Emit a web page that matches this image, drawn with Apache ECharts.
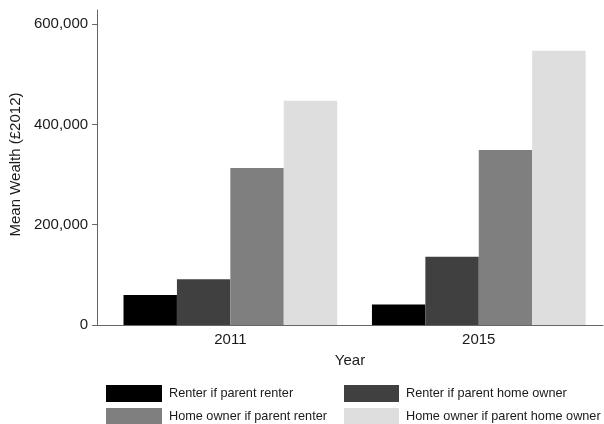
<!DOCTYPE html>
<html>
<head>
<meta charset="utf-8">
<script src="https://cdn.jsdelivr.net/npm/echarts@6/dist/echarts.min.js"></script>
<style>
html,body{margin:0;padding:0;background:#fff;}
#c{width:604px;height:424px;}
</style>
</head>
<body>
<div id="c"></div>
<script>
var years = ['2011', '2015'];
var seriesNames = ['Renter if parent renter', 'Renter if parent home owner', 'Home owner if parent renter', 'Home owner if parent home owner'];
var renterParentRenter = [60000, 41000];
var renterParentOwner = [91000, 136000];
var ownerParentRenter = [313000, 349000];
var ownerParentOwner = [447000, 547000];
var yTicks = [0, 200000, 400000, 600000];
var colors = ['#000000', '#404040', '#7f7f7f', '#dedede'];

var values = [renterParentRenter, renterParentOwner, ownerParentRenter, ownerParentOwner];
var font = 'Liberation Sans, Arial, sans-serif';
var textColor = '#1a1a1a';
var axisColor = '#666666';

var chart = echarts.init(document.getElementById('c'), null, {renderer: 'canvas'});
var series = seriesNames.map(function (n, i) {
  return {
    name: n, type: 'bar', data: values[i],
    xAxisIndex: 0, yAxisIndex: 0,
    barGap: '0%', barCategoryGap: '14%',
    itemStyle: {color: colors[i]},
    emphasis: {disabled: true}
  };
});
chart.setOption({
  animation: false,
  backgroundColor: '#ffffff',
  textStyle: {fontFamily: font},
  grid: [
    {left: 106, right: 1, top: 10, bottom: 99},
    {left: 97, right: 1, top: 10, bottom: 99}
  ],
  legend: [
    {
      data: [seriesNames[0], seriesNames[2]],
      orient: 'vertical', left: 106, top: 385, height: 60,
      itemWidth: 56, itemHeight: 17, itemGap: 6,
      icon: 'rect', padding: 0,
      textStyle: {fontSize: 12.7, color: textColor, fontFamily: font, padding: [0, 0, 0, 2]},
      selectedMode: false
    },
    {
      data: [seriesNames[1], seriesNames[3]],
      orient: 'vertical', left: 344, top: 385, height: 60,
      itemWidth: 55, itemHeight: 17, itemGap: 6,
      icon: 'rect', padding: 0,
      textStyle: {fontSize: 12.7, color: textColor, fontFamily: font, padding: [0, 0, 0, 2]},
      selectedMode: false
    }
  ],
  xAxis: [
    {
      type: 'category', data: years, gridIndex: 0,
      axisLine: {show: false}, axisTick: {show: false},
      axisLabel: {fontSize: 15, color: textColor, margin: 7, fontFamily: font}
    },
    {
      type: 'category', data: years, gridIndex: 1,
      name: 'Year', nameLocation: 'middle', nameGap: 28,
      nameTextStyle: {fontSize: 15, color: textColor, fontFamily: font},
      axisLine: {show: true, lineStyle: {color: axisColor, width: 1}},
      axisTick: {show: false}, axisLabel: {show: false}
    }
  ],
  yAxis: [
    {
      type: 'value', gridIndex: 0, min: 0, max: 628000, offset: 9,
      name: 'Mean Wealth (£2012)', nameLocation: 'middle', nameGap: 68,
      nameTextStyle: {fontSize: 15, color: textColor, fontFamily: font, padding: [0, 0, 0, 6]},
      axisLine: {show: true, lineStyle: {color: axisColor, width: 1}},
      axisTick: {show: true, length: 5, lineStyle: {color: axisColor}, customValues: yTicks},
      axisLabel: {fontSize: 15, color: textColor, margin: 9, fontFamily: font, customValues: yTicks,
        formatter: function (v) { return v.toLocaleString('en-US'); }},
      splitLine: {show: false}
    },
    {
      type: 'value', gridIndex: 1, min: 0, max: 628000, show: false
    }
  ],
  series: series
});
</script>
</body>
</html>
